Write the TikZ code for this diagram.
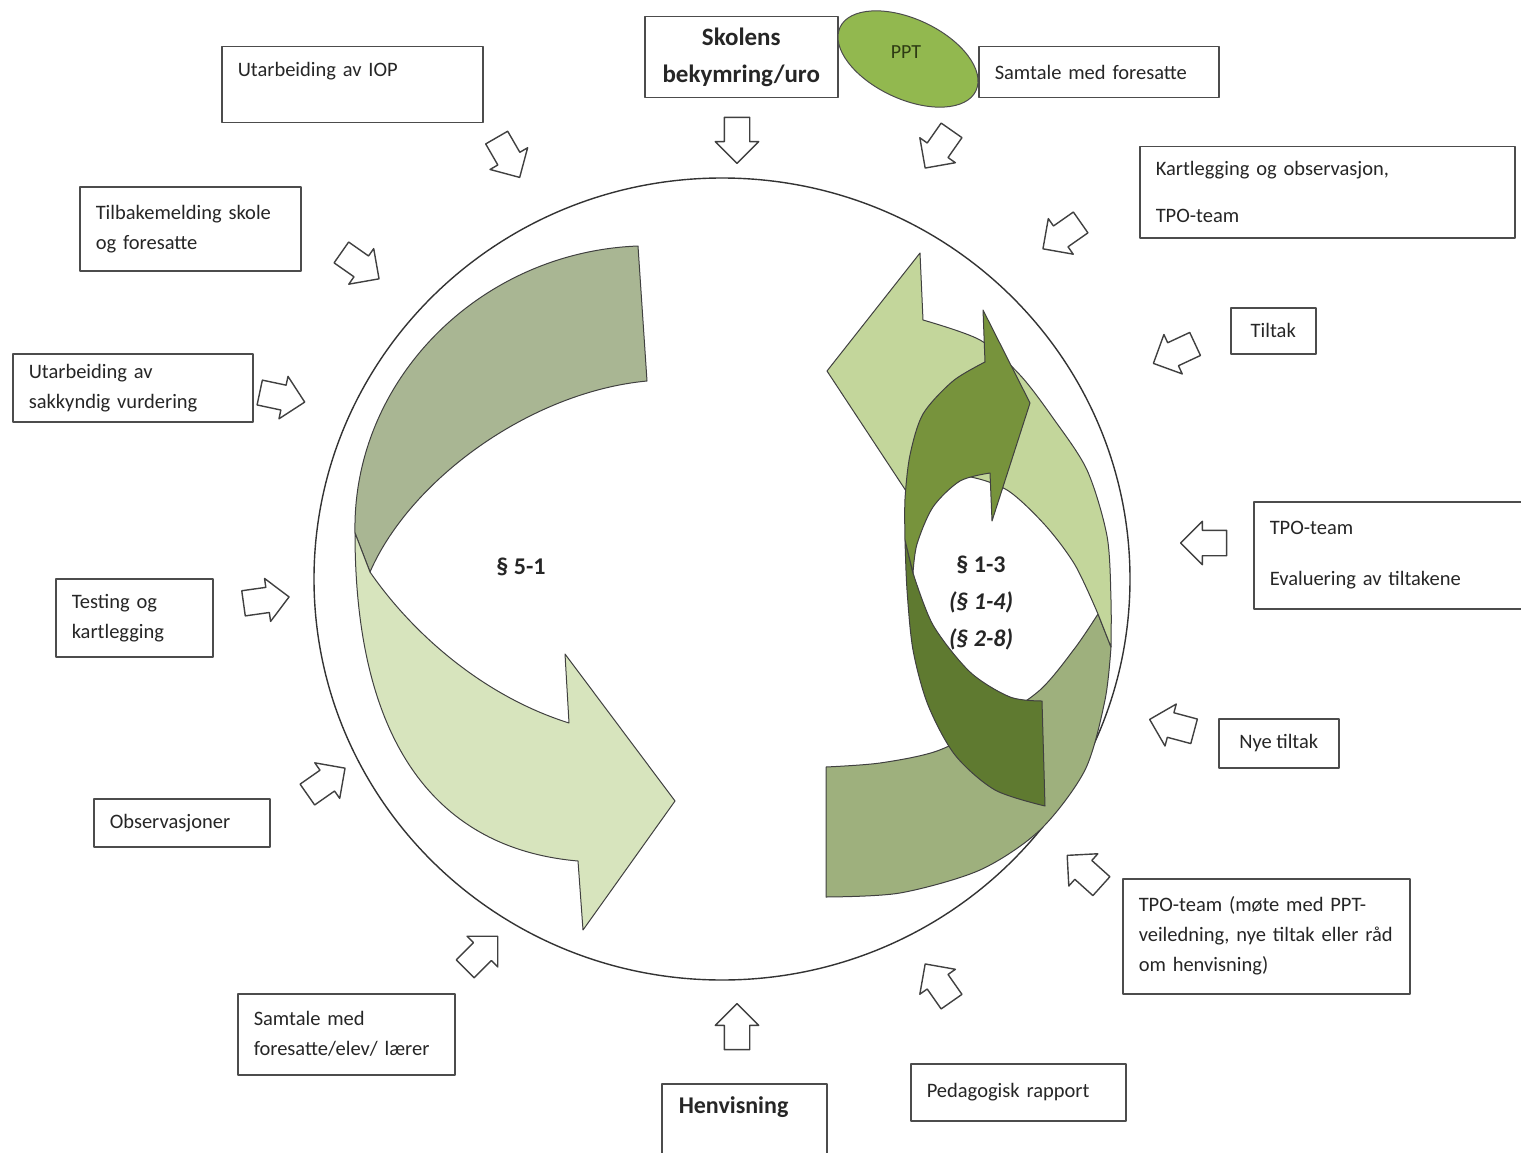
\documentclass[tikz,border=0pt]{standalone}
\usepackage{fontspec}
\setmainfont{Carlito}
\usetikzlibrary{shapes.arrows}
\definecolor{pptgreen}{HTML}{92B84F}
\definecolor{pptdark}{HTML}{2E3B14}
\definecolor{leftback}{HTML}{A9B693}
\definecolor{leftfront}{HTML}{D7E4BD}
\definecolor{rightfront}{HTML}{C3D69B}
\definecolor{rightback}{HTML}{9EB07D}
\definecolor{darkfront}{HTML}{77933C}
\definecolor{darkback}{HTML}{5F7A30}
\begin{document}
\begin{tikzpicture}[
        x=1pt, y=-1pt,
        line join=round,
        every node/.style={
                text=black!85
            }
    ]
    \tikzset  {
        box/.style = {draw=black!70, line width=1.5pt, fill=white, anchor=north west, align=left, inner xsep=16pt, inner ysep=0pt, font=\fontsize{20.5}{30}\selectfont},
        boldbox/.style = {box, font=\fontsize{24}{37}\selectfont\bfseries},
        inarrow/.style = {single arrow, draw=black!75, line width=1.4pt, fill=white, minimum height=46pt, inner xsep=0pt, inner ysep=12pt, single arrow head extend=9pt},
        band/.style = {draw=black!75, line width=1pt},
        para/.style = {font=\fontsize{24}{37}\selectfont\bfseries, align=center},
    }
    \useasboundingbox (0,0) rectangle (1521,1153);
    \node [box, text width=229pt, minimum height=76pt] (iop) at (221,46) {Utarbeiding av IOP\\\mbox{}};
    \node [boldbox, align=center, inner xsep=0pt, minimum width=193pt, minimum height=81pt, font=\fontsize{25}{37}\selectfont\bfseries] (skolens) at (644,16) {Skolens\\bekymring/uro};
    \node [box, text width=208pt, minimum height=51pt] (samtale) at (978,46) {Samtale med foresatte};
    \node [box, text width=343pt, minimum height=91pt] (kartlegging) at (1139,146) {Kartlegging og observasjon,\\[17pt]TPO-team};
    \node [box, text width=189pt, minimum height=84pt] (tilbake) at (79,186) {Tilbakemelding skole\\og foresatte};
    \node [box, align=center, inner xsep=0pt, minimum width=85pt, minimum height=46pt] (tiltak) at (1230,307) {Tiltak};
    \node [box, text width=208pt, minimum height=68pt] (sakkyndig) at (12,353) {Utarbeiding av\\sakkyndig vurdering};
    \node [box, text width=243pt, minimum height=107pt] (evaluering) at (1253,501) {TPO-team\\[21pt]Evaluering av tiltakene};
    \node [box, text width=125pt, minimum height=78pt] (testing) at (55,578) {Testing og\\kartlegging};
    \node [box, align=center, inner xsep=0pt, minimum width=120pt, minimum height=49pt] (nye) at (1218,718) {Nye tiltak};
    \node [box, text width=144pt, minimum height=48pt] (observasjoner) at (93,798) {Observasjoner};
    \node [box, text width=255pt, minimum height=115pt] (tpomote) at (1122,878) {TPO-team (møte med PPT-\\veiledning, nye tiltak eller råd\\om henvisning)};
    \node [box, text width=185pt, minimum height=81pt] (samtaleelev) at (237,993) {Samtale med\\foresatte/elev/ lærer};
    \node [box, text width=183pt, minimum height=57pt] (pedagogisk) at (910,1063) {Pedagogisk rapport};
    \node [boldbox, text width=131pt, inner xsep=17pt, minimum height=80pt] (henvisning) at (661,1083) {Henvisning\\\mbox{}};
    \draw [fill=pptgreen, draw=black!70, line width=1pt, rotate around={-25:(908,59)}] (908,59) ellipse [x radius=75, y radius=40];
    \node [font=\fontsize{20}{24}\selectfont, text=pptdark] (ppt) at (906,52) {PPT};
    \draw [black!80, line width=1.4pt] (722,579) ellipse [x radius=408, y radius=401];
    \node [inarrow, rotate=-90] (pil1) at (737,134) {};
    \node [inarrow, rotate=-125] (pil2) at (942,144) {};
    \node [inarrow, rotate=215] (pil3) at (1067,232) {};
    \node [inarrow, rotate=205] (pil4) at (1180,351) {};
    \node [inarrow, rotate=180] (pil5) at (1210,543) {};
    \node [inarrow, rotate=165] (pil6) at (1178,727) {};
    \node [inarrow, rotate=138] (pil7) at (1089,875) {};
    \node [inarrow, rotate=125] (pil8) at (942,988) {};
    \node [inarrow, rotate=90] (pil9) at (737,1033) {};
    \node [inarrow, rotate=45] (pil10) at (477,957) {};
    \node [inarrow, rotate=35] (pil11) at (321,785) {};
    \node [inarrow, rotate=8] (pil12) at (260,601) {};
    \node [inarrow, rotate=-12] (pil13) at (276,396) {};
    \node [inarrow, rotate=-35] (pil14) at (355,262) {};
    \node [inarrow, rotate=-60] (pil15) at (505,152) {};
    \draw [band, fill=leftback] (638,246) -- (647,381)
        .. controls (530,392) and (410,480) .. (370,572)
        -- (355,533)
        .. controls (352,380) and (480,252) .. (638,246)
        -- cycle;
    \draw [band, fill=leftfront] (370,572)
        .. controls (410,630) and (480,695) .. (569,723)
        -- (565,654) -- (675,801) -- (583,930) -- (578,861)
        .. controls (450,850) and (355,760) .. (355,533)
        -- cycle;
    \draw [band, fill=rightback] (826,767) -- (826,897)
        -- plot [smooth] coordinates {(826,897) (900,893) (980,870) (1040,830) (1085,770) (1105,700) (1111,647)}
        -- (1098,614)
        -- plot [smooth] coordinates {(1098,614) (1075,648) (1040,690) (990,724) (937,751) (880,763) (826,767)}
        -- cycle;
    \draw [band, fill=rightfront] (1098,614) -- (1111,647)
        -- plot [smooth] coordinates {(1111,647) (1111,600) (1107,536) (1087,470) (1053,418) (1020,375) (980,340) (923,320)}
        -- (920,253) -- (827,371) -- (912,500) -- (922,478)
        -- plot [smooth] coordinates {(922,478) (965,476) (1007,490) (1045,525) (1075,565) (1098,614)}
        -- cycle;
    \draw [band, fill=darkback] (905,540)
        -- plot [smooth] coordinates {(905,540) (907,590) (913,650) (928,705) (955,755) (995,790) (1045,806)}
        -- (1042,701)
        -- plot [smooth] coordinates {(1042,701) (1010,697) (970,672) (933,625) (913,573)}
        -- cycle;
    \draw [band, fill=darkfront] (905,540)
        -- plot [smooth] coordinates {(905,540) (905,499) (910,455) (923,414) (953,381) (985,362)}
        -- (983,310) -- (1030,403) -- (992,521) -- (990,473)
        -- plot [smooth] coordinates {(990,473) (960,481) (933,507) (917,544) (913,573)}
        -- cycle;
    \node [para] (par51) at (521,567) {§ 5-1};
    \node [para] (par13) at (981,603) {§ 1-3\\\textit{(§ 1-4)}\\\textit{(§ 2-8)}};
\end{tikzpicture}
\end{document}
